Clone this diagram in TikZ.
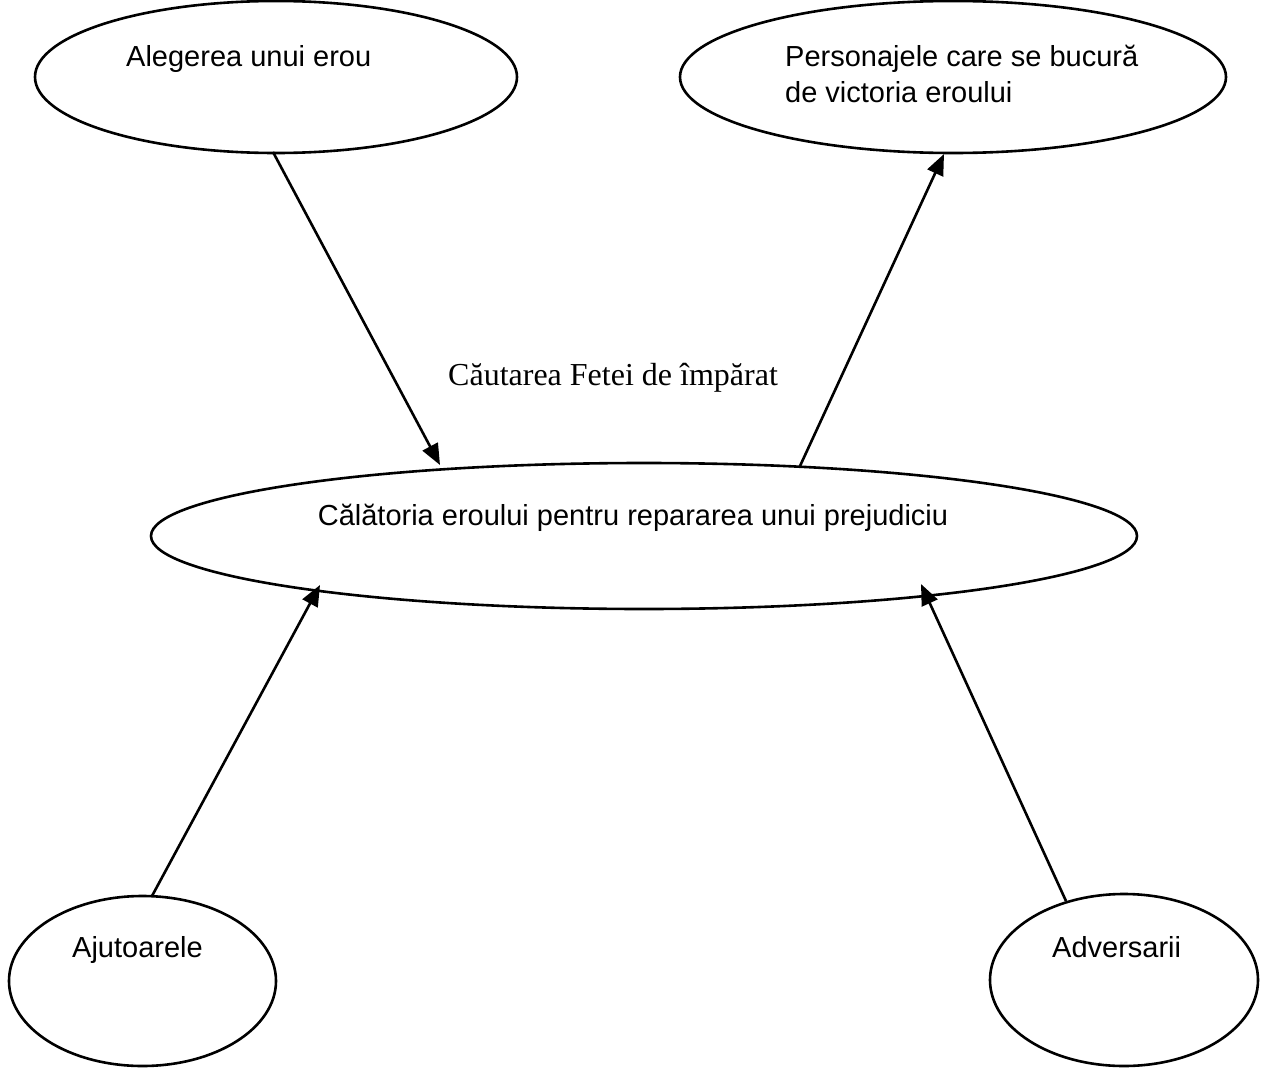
\documentclass[tikz,border=0pt]{standalone}
\usepackage{fontspec}
\setmainfont{Liberation Sans}
\newfontfamily\seriffont{Liberation Serif}
\usetikzlibrary{shapes.geometric,arrows.meta,calc}
\begin{document}
\begin{tikzpicture}[x=1pt,y=-1pt,
  oval/.style={draw,ellipse,line width=2.6pt,inner sep=0pt,outer sep=0pt},
  lbl/.style={anchor=base west,inner sep=0pt,font=\fontsize{29}{36}\selectfont},
  conn/.style={line width=2.6pt,-{Triangle[length=21pt,width=17pt]}}]
\useasboundingbox[fill=white] (0,0) rectangle (1264,1068);
% ellipses
\node[oval,minimum width=482pt,minimum height=152pt] (tl) at (276,77) {};
\node[oval,minimum width=546pt,minimum height=152pt] (tr) at (953,77) {};
\node[oval,minimum width=986pt,minimum height=146pt] (mid) at (644,536) {};
\node[oval,minimum width=267pt,minimum height=170pt] (bl) at (142.5,981) {};
\node[oval,minimum width=268pt,minimum height=172pt] (br) at (1124,980) {};
% texts
\node[lbl] (tltext) at (126,66) {Alegerea unui erou};
\node[lbl] (trtexta) at (785,66) {Personajele care se bucură};
\node[lbl] (trtextb) at (785,102) {de victoria eroului};
\node[lbl,anchor=base] (midtext) at (633,525) {Călătoria eroului pentru repararea unui prejudiciu};
\node[lbl] (bltext) at (72,957) {Ajutoarele};
\node[lbl] (brtext) at (1052,957) {Adversarii};
\node[anchor=base west,inner sep=0pt,font=\seriffont\fontsize{32}{38}\selectfont] (quest) at (448,385) {Căutarea Fetei de împărat};
% connectors
\draw[conn] ($(tl.center)+(-3,75)$) -- ($(mid.center)+(-204,-71)$);
\draw[conn] ($(mid.center)+(156,-70)$) -- ($(tr.center)+(-9,77)$);
\draw[conn] ($(bl.center)+(9.5,-85)$) -- ($(mid.center)+(-324,49)$);
\draw[conn] ($(br.center)+(-58,-79)$) -- ($(mid.center)+(277,48)$);
\end{tikzpicture}
\end{document}
